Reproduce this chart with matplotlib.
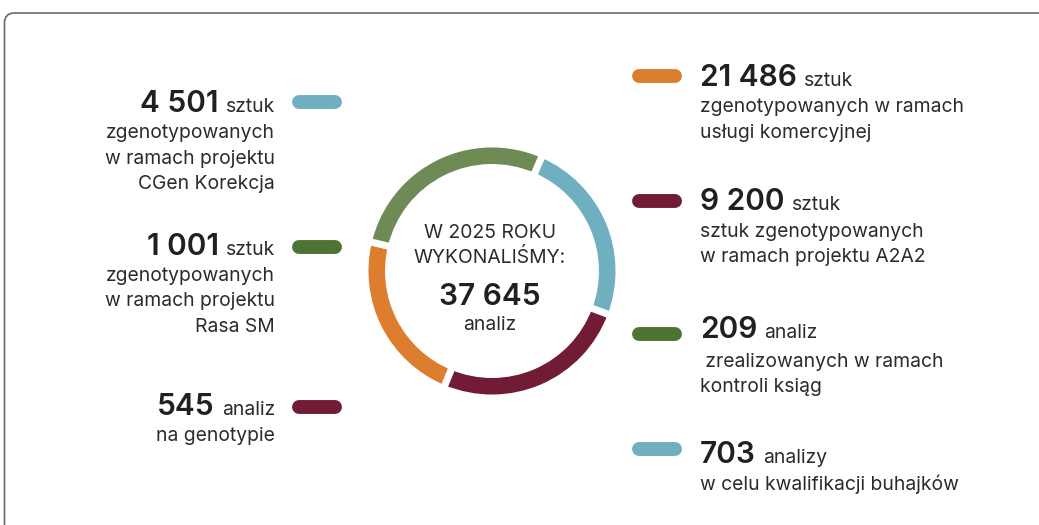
import numpy as np
import matplotlib
matplotlib.use("Agg")
import matplotlib.pyplot as plt
from matplotlib.patches import FancyBboxPatch

W, H = 1039, 525
FONT = "Inter"
TXT = "#2b2b2b"
BODY = 13.9
BIG = 21.5

# left column
left_values = [4501, 1001, 545]
left_units = ["sztuk", "sztuk", "analiz"]
left_desc = [
    ["zgenotypowanych", "w ramach projektu", "CGen Korekcja"],
    ["zgenotypowanych", "w ramach projektu", "Rasa SM"],
    ["na genotypie"],
]
left_colors = ["#6FAFBF", "#4E7434", "#721B35"]

# right column
right_values = [21486, 9200, 209, 703]
right_units = ["sztuk", "sztuk", "analiz", "analizy"]
right_desc = [
    ["zgenotypowanych w ramach", "usługi komercyjnej"],
    ["sztuk zgenotypowanych", "w ramach projektu A2A2"],
    [" zrealizowanych w ramach", "kontroli ksiąg"],
    ["w celu kwalifikacji buhajków"],
]
right_colors = ["#DD7D2E", "#721B35", "#4E7434", "#6FAFBF"]

# decorative ring: arc sizes in degrees, clockwise starting with blue
ring_arcs = [87, 92, 81, 100]
ring_colors = ["#6FAFBF", "#721B35", "#DD7D2E", "#6E8B55"]

center_title = ["W 2025 ROKU", "WYKONALIŚMY:"]
center_unit = "analiz"


def fmt(v):
    return f"{v:,}".replace(",", " ")


fig = plt.figure(figsize=(W / 100, H / 100), dpi=100)
ax = fig.add_axes([0, 0, 1, 1])
ax.set_xlim(0, W)
ax.set_ylim(H, 0)
ax.axis("off")

# frame (cut off on the right and bottom)
frame = FancyBboxPatch((4.5, 13), W + 40, H + 40,
                       boxstyle="round,pad=0,rounding_size=10",
                       fc="none", ec="#6a6a6a", lw=1.2)
ax.add_patch(frame)

renderer = fig.canvas.get_renderer()


def width_of(t):
    return t.get_window_extent(renderer=renderer).width


def heading(x, y, value, unit, align):
    if align == "right":
        u = ax.text(x, y, unit, ha="right", va="baseline", fontsize=BODY,
                    family=FONT, color=TXT)
        w = width_of(u)
        ax.text(x - w - 7, y, fmt(value), ha="right", va="baseline",
                fontsize=BIG, family=FONT, weight="semibold", color="#231f20")
    else:
        n = ax.text(x, y, fmt(value), ha="left", va="baseline",
                    fontsize=BIG, family=FONT, weight="semibold", color="#231f20")
        w = width_of(n)
        ax.text(x + w + 7, y, unit, ha="left", va="baseline", fontsize=BODY,
                family=FONT, color=TXT)


def pill(x0, x1, y, color):
    ax.plot([x0 + 7, x1 - 7], [y, y], color=color, lw=10, solid_capstyle="round")


# left blocks
left_y = [112, 255, 415]
left_pill_y = [102, 247, 407]
for i, v in enumerate(left_values):
    heading(275, left_y[i], v, left_units[i], "right")
    for j, line in enumerate(left_desc[i]):
        ax.text(275, left_y[i] + 26 + 25.5 * j, line, ha="right", va="baseline",
                fontsize=BODY, family=FONT, color=TXT)
    pill(292, 342, left_pill_y[i], left_colors[i])

# right blocks
right_y = [86, 210, 338, 463]
right_pill_y = [76, 201, 334, 449]
right_first = [26, 27, 29, 27]
for i, v in enumerate(right_values):
    heading(700, right_y[i], v, right_units[i], "left")
    for j, line in enumerate(right_desc[i]):
        ax.text(700, right_y[i] + right_first[i] + 25.5 * j, line, ha="left",
                va="baseline", fontsize=BODY, family=FONT, color=TXT)
    pill(632, 682, right_pill_y[i], right_colors[i])

# ring
cx, cy, R = 492, 271, 127
pax = fig.add_axes([(cx - R) / W, 1 - (cy + R) / H, 2 * R / W, 2 * R / H])
pax.pie(ring_arcs, colors=ring_colors, startangle=66.5, counterclock=False,
        radius=1.0, wedgeprops=dict(width=0.185, edgecolor="white", linewidth=5))
pax.set_xlim(-1, 1)
pax.set_ylim(-1, 1)
pax.set_aspect("equal")
pax.axis("off")

# center text
for k, line in enumerate(center_title):
    ax.text(490, 238 + 25 * k, line, ha="center", va="baseline", fontsize=BODY,
            family=FONT, color=TXT)
ax.text(490, 305, fmt(sum(left_values) + sum(right_values)), ha="center",
        va="baseline", fontsize=BIG, family=FONT, weight="semibold", color="#231f20")
ax.text(490, 330, center_unit, ha="center", va="baseline", fontsize=BODY,
        family=FONT, color=TXT)

fig.savefig("out.png", dpi=100)
